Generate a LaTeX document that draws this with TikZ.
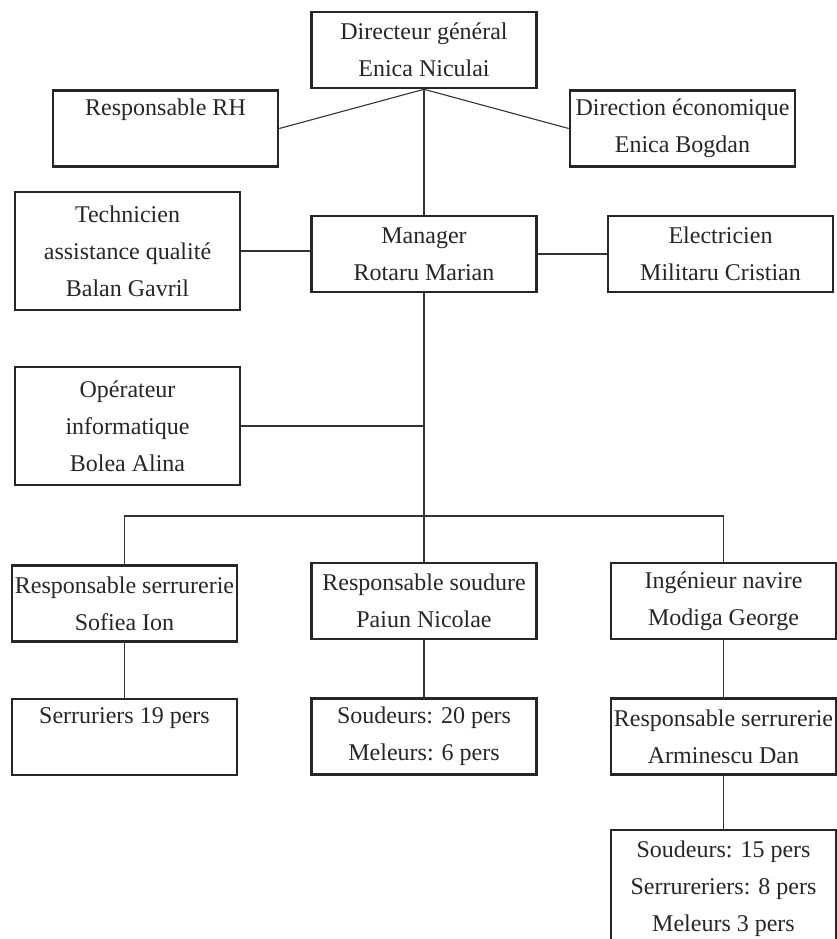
\documentclass[tikz,border=0pt]{standalone}
\usepackage{fontspec}
\setmainfont{Liberation Serif}
\usetikzlibrary{positioning}

\begin{document}
\begin{tikzpicture}[x=1pt,y=-1pt,
	box/.style={draw=black!85, line width=2.6pt, minimum width=225pt, minimum height=76pt, inner sep=0pt, align=center, text=black!85, font=\fontsize{24}{37}\selectfont},
	tall/.style={box, minimum height=118pt},
	lien/.style={draw=black!80, line width=1.1pt}]
		\useasboundingbox (0,0) rectangle (836,939);
		\node (dir) [box] at (424,50) {Directeur général\\Enica Niculai};
		\node (rh) [box] at (165.5,128.5) {Responsable RH\\\phantom{Rg}};
		\node (eco) [box] at (682.5,128.5) {Direction économique\\Enica Bogdan};
		\node (tech) [tall] at (127.5,251) {Technicien\\assistance qualité\\Balan Gavril};
		\node (man) [box] at (424,254) {Manager\\Rotaru Marian};
		\node (elec) [box] at (720.5,254) {Electricien\\Militaru Cristian};
		\node (oper) [tall] at (127.5,426) {Opérateur\\informatique\\Bolea Alina};
		\node (serr) [box] at (124.5,603.5) {Responsable serrurerie\\Sofiea Ion};
		\node (soud) [box] at (424,601) {Responsable soudure\\Paiun Nicolae};
		\node (ing) [box] at (723.5,601) {Ingénieur navire\\Modiga George};
		\node (serrq) [box] at (124.5,737) {Serruriers 19 pers\\\phantom{Rg}};
		\node (soudq) [box] at (424,736.5) {Soudeurs: 20 pers\\Meleurs: 6 pers};
		\node (arm) [box] at (723.5,736.5) {Responsable serrurerie\\Arminescu Dan};
		\node (equipe) [tall] at (723.5,889) {Soudeurs: 15 pers\\Serrureriers: 8 pers\\Meleurs 3 pers};
		\coordinate (bus) at (424,516);
		\draw [lien] (dir.south) -- (rh.east);
		\draw [lien] (dir.south) -- (eco.west);
		\draw [lien] (dir) -- (man);
		\draw [lien] (tech.east) -- (tech.east -| man.west);
		\draw [lien] (man.east) -- (elec.west);
		\draw [lien] (man) -- (soud);
		\draw [lien] (oper.east) -- (oper.east -| man.south);
		\draw [lien] (serr.north) |- (bus) -| (ing.north);
		\draw [lien] (serr) -- (serrq);
		\draw [lien] (soud) -- (soudq);
		\draw [lien] (ing) -- (arm);
		\draw [lien] (arm) -- (equipe);
\end{tikzpicture}
\end{document}
